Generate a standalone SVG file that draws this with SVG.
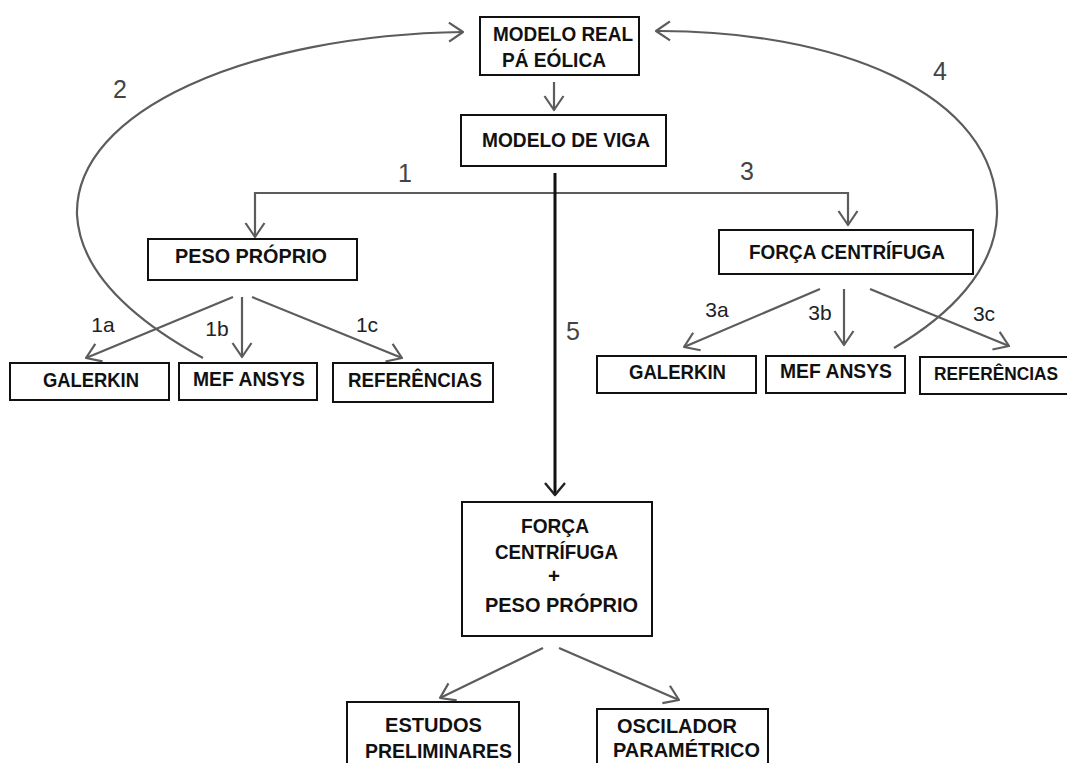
<svg xmlns="http://www.w3.org/2000/svg" width="1067" height="763" viewBox="0 0 1067 763">
<style>
.box{fill:#fff;stroke:#111;stroke-width:2}
.t{font-family:"Liberation Sans",Arial,sans-serif;font-weight:bold;font-size:20.5px;fill:#111}
.num{font-family:"Liberation Sans",Arial,sans-serif;font-size:25px;fill:#444;text-anchor:middle}
.sub{font-family:"Liberation Sans",Arial,sans-serif;font-size:21px;fill:#222;text-anchor:middle}
.c{fill:none;stroke:#5c5c5c;stroke-width:2.2;marker-end:url(#ag)}
.k{fill:none;stroke:#111;stroke-width:3;marker-end:url(#ak)}
</style>
<defs>
<marker id="ag" viewBox="0 0 17 22" refX="15" refY="11" markerWidth="17" markerHeight="22" markerUnits="userSpaceOnUse" orient="auto"><path d="M1,1.5 L15,11 L1,20.5" fill="none" stroke="#5c5c5c" stroke-width="2.2" stroke-linejoin="round"/></marker>
<marker id="ak" viewBox="0 0 15 22" refX="13" refY="11" markerWidth="15" markerHeight="22" markerUnits="userSpaceOnUse" orient="auto"><path d="M1,1 L13,11 L1,21" fill="none" stroke="#222" stroke-width="2.4" stroke-linejoin="round"/></marker>
</defs>
<rect width="1067" height="763" fill="#fff"/>
<g id="connectors">
<path class="c" d="M203,358 C130,318 80,270 77,215 C74,110 250,35 463,32"/>
<path class="c" d="M894,348 C950,315 995,270 997,215 C1000,90 830,30 656,31"/>
<path class="c" d="M554,82 V110"/>
<path class="c" d="M555,193 H255 V237"/>
<path class="c" d="M555,193 H848 V225"/>
<path class="c" d="M233,297 L86,358"/>
<path class="c" d="M242,297 V357"/>
<path class="c" d="M252,297 L402,358"/>
<path class="c" d="M820,289 L684,347"/>
<path class="c" d="M844,289 V345"/>
<path class="c" d="M870,289 L1009,346"/>
<path class="c" d="M543,648 L440,698"/>
<path class="c" d="M559,648 L679,700"/>
<path class="k" d="M555,173 V495"/>
<text class="num" x="120" y="98">2</text>
<text class="num" x="405" y="182">1</text>
<text class="num" x="747" y="180">3</text>
<text class="num" x="940" y="80">4</text>
<text class="num" x="573" y="340">5</text>
<text class="sub" x="103" y="332">1a</text>
<text class="sub" x="217" y="336">1b</text>
<text class="sub" x="367" y="332">1c</text>
<text class="sub" x="717" y="317">3a</text>
<text class="sub" x="820" y="320">3b</text>
<text class="sub" x="984" y="321">3c</text>
</g>
<g id="modelo-real"><rect class="box" x="480" y="17" width="159" height="58"/>
<text class="t" x="493" y="41" textLength="140" lengthAdjust="spacingAndGlyphs">MODELO REAL</text>
<text class="t" x="502" y="67" textLength="104" lengthAdjust="spacingAndGlyphs">PÁ EÓLICA</text></g>
<g id="modelo-viga"><rect class="box" x="461" y="115" width="205" height="51"/>
<text class="t" x="482" y="147" textLength="168" lengthAdjust="spacingAndGlyphs">MODELO DE VIGA</text></g>
<g id="peso-proprio"><rect class="box" x="148" y="239" width="209" height="41"/>
<text class="t" x="175" y="263" textLength="152" lengthAdjust="spacingAndGlyphs">PESO PRÓPRIO</text></g>
<g id="forca-centrifuga"><rect class="box" x="719" y="230" width="254" height="44"/>
<text class="t" x="749" y="259" textLength="196" lengthAdjust="spacingAndGlyphs">FORÇA CENTRÍFUGA</text></g>
<g id="galerkin-1"><rect class="box" x="10" y="363" width="159" height="37"/>
<text class="t" x="43" y="387" textLength="96" lengthAdjust="spacingAndGlyphs">GALERKIN</text></g>
<g id="mef-1"><rect class="box" x="179" y="363" width="138" height="37"/>
<text class="t" x="193" y="386" textLength="112" lengthAdjust="spacingAndGlyphs">MEF ANSYS</text></g>
<g id="ref-1"><rect class="box" x="333" y="363" width="160" height="39"/>
<text class="t" x="348" y="387" textLength="134" lengthAdjust="spacingAndGlyphs">REFERÊNCIAS</text></g>
<g id="galerkin-3"><rect class="box" x="597" y="356" width="159" height="37"/>
<text class="t" x="629" y="379" textLength="97" lengthAdjust="spacingAndGlyphs">GALERKIN</text></g>
<g id="mef-3"><rect class="box" x="766" y="356" width="139" height="37"/>
<text class="t" x="780" y="378" textLength="112" lengthAdjust="spacingAndGlyphs">MEF ANSYS</text></g>
<g id="ref-3"><rect class="box" x="920" y="357" width="170" height="37"/>
<text class="t" x="934" y="380" font-size="18" style="font-size:18px" textLength="124" lengthAdjust="spacingAndGlyphs">REFERÊNCIAS</text></g>
<g id="combinado"><rect class="box" x="462" y="502" width="190" height="134"/>
<text class="t" x="521" y="533" textLength="68" lengthAdjust="spacingAndGlyphs">FORÇA</text>
<text class="t" x="495" y="559" textLength="123" lengthAdjust="spacingAndGlyphs">CENTRÍFUGA</text>
<text class="t" x="554" y="583" text-anchor="middle">+</text>
<text class="t" x="485" y="612" textLength="153" lengthAdjust="spacingAndGlyphs">PESO PRÓPRIO</text></g>
<g id="estudos"><rect class="box" x="347" y="702" width="172" height="80"/>
<text class="t" x="385" y="732" textLength="97" lengthAdjust="spacingAndGlyphs">ESTUDOS</text>
<text class="t" x="365" y="758" textLength="147" lengthAdjust="spacingAndGlyphs">PRELIMINARES</text></g>
<g id="oscilador"><rect class="box" x="597" y="709" width="171" height="80"/>
<text class="t" x="617" y="733" textLength="120" lengthAdjust="spacingAndGlyphs">OSCILADOR</text>
<text class="t" x="613" y="757" textLength="147" lengthAdjust="spacingAndGlyphs">PARAMÉTRICO</text></g>
</svg>
